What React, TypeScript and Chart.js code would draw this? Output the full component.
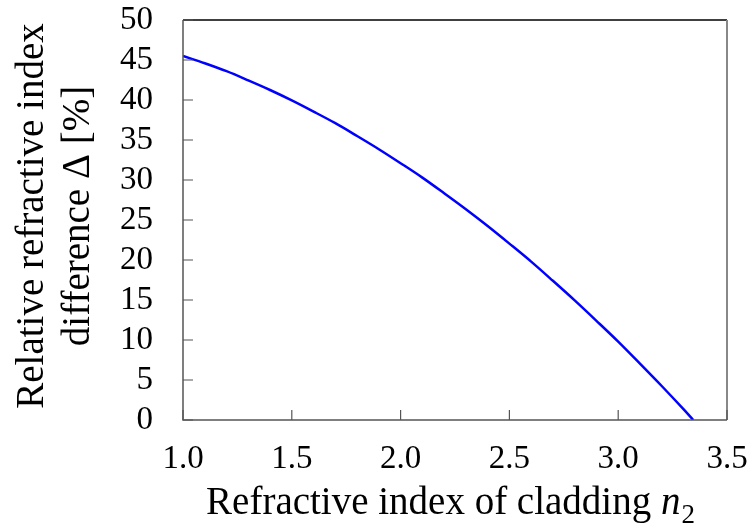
import React, { useEffect, useRef } from "react";
import { Chart, registerables } from "chart.js";

Chart.register(...registerables);

// Data
const n2Values = [1.0, 1.1, 1.2, 1.3, 1.4, 1.5, 1.6, 1.7, 1.8, 1.9, 2.0, 2.1, 2.2, 2.3, 2.4, 2.5, 2.6, 2.7, 2.8, 2.9, 3.0, 3.1, 3.2, 3.3, 3.345];
const deltaValues = [45.5, 44.6, 43.6, 42.45, 41.25, 39.95, 38.55, 37.1, 35.5, 33.85, 32.1, 30.3, 28.35, 26.35, 24.25, 22.05, 19.8, 17.4, 14.95, 12.4, 9.8, 7.05, 4.25, 1.35, 0];
const xTickValues = [1.0, 1.5, 2.0, 2.5, 3.0, 3.5];
const yTickValues = [0, 5, 10, 15, 20, 25, 30, 35, 40, 45, 50];

const xTitleMain = "Refractive index of cladding ";
const xTitleVar = "n";
const xTitleSub = "2";
const yTitleLines = ["Relative refractive index", "difference \u0394 [%]"];

const FONT = '"Liberation Serif", "Times New Roman", serif';
const TITLE_SIZE = 39;
const TICK_SIZE = 33;

const framePlugin = {
  id: "frame",
  afterDraw(chart: any) {
    const { ctx, chartArea } = chart;
    const { left, right, top, bottom } = chartArea;
    const xs = chart.scales.x;
    const ys = chart.scales.y;
    ctx.save();
    // spines
    ctx.lineCap = "butt";
    ctx.strokeStyle = "#000";
    ctx.lineWidth = 1.5;
    ctx.beginPath();
    ctx.moveTo(left, top);
    ctx.lineTo(right, top);
    ctx.stroke();
    ctx.strokeStyle = "#888";
    ctx.lineWidth = 2;
    ctx.beginPath();
    ctx.moveTo(right, top);
    ctx.lineTo(right, bottom);
    ctx.stroke();
    ctx.strokeStyle = "#555";
    ctx.lineWidth = 1.5;
    ctx.beginPath();
    ctx.moveTo(left, top);
    ctx.lineTo(left, bottom);
    ctx.lineTo(right, bottom);
    ctx.stroke();
    // inward ticks
    ctx.lineWidth = 1.2;
    ctx.beginPath();
    xTickValues.forEach((v) => {
      const px = xs.getPixelForValue(v);
      ctx.moveTo(px, bottom);
      ctx.lineTo(px, bottom - 10);
    });
    yTickValues.forEach((v) => {
      const py = ys.getPixelForValue(v);
      ctx.moveTo(left, py);
      ctx.lineTo(left + 10, py);
    });
    ctx.stroke();

    // x title
    ctx.fillStyle = "#000";
    ctx.textBaseline = "alphabetic";
    ctx.textAlign = "left";
    const subSize = Math.round(TITLE_SIZE * 0.68);
    ctx.font = `${TITLE_SIZE}px ${FONT}`;
    const wMain = ctx.measureText(xTitleMain).width;
    ctx.font = `italic ${TITLE_SIZE}px ${FONT}`;
    const wVar = ctx.measureText(xTitleVar).width;
    ctx.font = `${subSize}px ${FONT}`;
    const wSub = ctx.measureText(xTitleSub).width;
    const total = wMain + wVar + wSub;
    let x0 = 450 - total / 2;
    const base = 514;
    ctx.font = `${TITLE_SIZE}px ${FONT}`;
    ctx.fillText(xTitleMain, x0, base);
    x0 += wMain;
    ctx.font = `italic ${TITLE_SIZE}px ${FONT}`;
    ctx.fillText(xTitleVar, x0, base);
    x0 += wVar + 1;
    ctx.font = `${subSize}px ${FONT}`;
    ctx.fillText(xTitleSub, x0, base + 9);

    // y title
    const cy = 216;
    ctx.font = `${TITLE_SIZE}px ${FONT}`;
    ctx.textAlign = "center";
    const baselinesX = [43, 89];
    yTitleLines.forEach((line, i) => {
      ctx.save();
      ctx.translate(baselinesX[i], cy);
      ctx.rotate(-Math.PI / 2);
      ctx.fillText(line, 0, 0);
      ctx.restore();
    });
    ctx.restore();
  },
};

const noPadding = (scale: any) => {
  scale.paddingTop = 0;
  scale.paddingBottom = 0;
  scale.paddingLeft = 0;
  scale.paddingRight = 0;
};

export default function App() {
  const canvasRef = useRef<HTMLCanvasElement | null>(null);

  useEffect(() => {
    if (!canvasRef.current) return;
    const chart = new Chart(canvasRef.current, {
      type: "line",
      data: {
        datasets: [
          {
            data: n2Values.map((x, i) => ({ x, y: deltaValues[i] })),
            borderColor: "#0000ff",
            borderWidth: 2.5,
            pointRadius: 0,
            cubicInterpolationMode: "monotone",
            fill: false,
          },
        ],
      },
      options: {
        animation: false,
        responsive: true,
        maintainAspectRatio: false,
        layout: { padding: { left: 0, top: 20, right: 20, bottom: 0 } },
        plugins: {
          legend: { display: false },
          tooltip: { enabled: false },
        },
        scales: {
          x: {
            type: "linear",
            min: 1,
            max: 3.5,
            afterBuildTicks: (scale: any) => {
              scale.ticks = xTickValues.map((v) => ({ value: v }));
            },
            afterFit: (scale: any) => {
              scale.height = 106;
              noPadding(scale);
            },
            grid: { display: false, drawTicks: false },
            border: { display: false },
            ticks: {
              padding: 20,
              autoSkip: false,
              color: "#000",
              font: { family: FONT, size: TICK_SIZE },
              maxRotation: 0,
              callback: (v: any) => Number(v).toFixed(1),
            },
          },
          y: {
            type: "linear",
            min: 0,
            max: 50,
            afterBuildTicks: (scale: any) => {
              scale.ticks = yTickValues.map((v) => ({ value: v }));
            },
            afterFit: (scale: any) => {
              scale.width = 183;
              noPadding(scale);
            },
            grid: { display: false, drawTicks: false },
            border: { display: false },
            ticks: {
              padding: 30,
              autoSkip: false,
              color: "#000",
              font: { family: FONT, size: TICK_SIZE },
              callback: (v: any) => String(v),
            },
          },
        },
      },
      plugins: [framePlugin],
    });
    return () => chart.destroy();
  }, []);

  return (
    <div style={{ position: "fixed", left: 0, top: 0, width: 747, height: 526, background: "#fff" }}>
      <canvas ref={canvasRef} />
    </div>
  );
}
